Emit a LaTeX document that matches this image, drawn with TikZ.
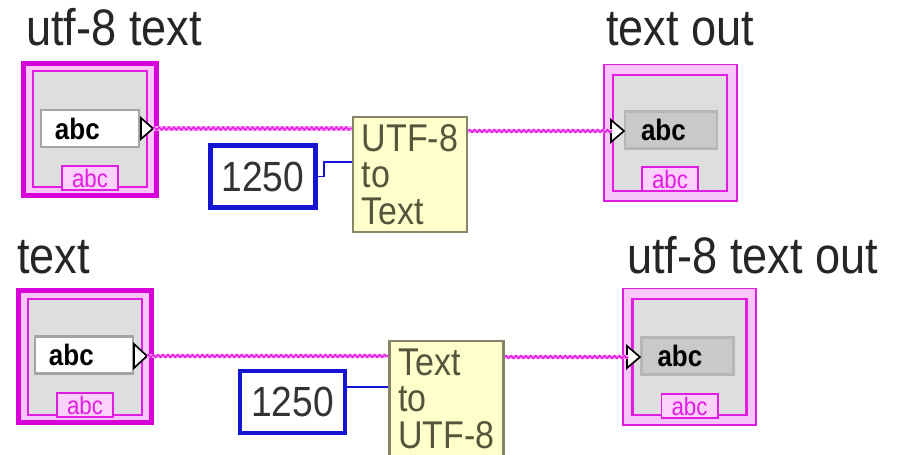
\documentclass[tikz,border=0pt]{standalone}
\usepackage{fontspec}
\setmainfont{Liberation Sans}[FakeStretch=0.88]
\usetikzlibrary{decorations.pathmorphing}

\definecolor{lvmag}{HTML}{E31CE3}
\definecolor{lvmagdark}{HTML}{D800D8}
\definecolor{lvband}{HTML}{F9C6F9}
\definecolor{lvtab}{HTML}{FAD2FA}
\definecolor{lvgray}{HTML}{DEDEDE}
\definecolor{lvstrgray}{HTML}{A4A4A4}
\definecolor{lvdisp}{HTML}{C9C9C9}
\definecolor{lvyellow}{HTML}{FFFFCC}
\definecolor{lvolive}{HTML}{85856A}
\definecolor{lvoltext}{HTML}{55553C}
\definecolor{lvblue}{HTML}{1414D2}
\definecolor{lvwband}{HTML}{F7A8F7}

\tikzset{
  lbl/.style={font=\fontsize{36.5}{40}\selectfont, text=black!85, inner sep=0},
  ctlouter/.style={draw=lvmagdark, line width=3.5pt, fill=lvband, minimum width=3.325cm, minimum height=3.3cm, inner sep=0},
  indouter/.style={draw=lvmag, line width=1.4pt, fill=lvband, minimum width=3.325cm, minimum height=3.4cm, inner sep=0},
  frame/.style={draw=lvmag, line width=1.8pt, fill=lvgray, minimum width=2.84cm, minimum height=2.89cm, inner sep=0},
  ctlstr/.style={draw=lvstrgray, line width=2pt, fill=white, minimum height=0.925cm, inner xsep=0.35cm, inner ysep=0, text width=1.75cm, align=left, font=\bfseries\fontsize{21}{21}\selectfont},
  indstr/.style={draw=lvstrgray!80, line width=2pt, fill=lvdisp, minimum height=0.925cm, inner xsep=0.4cm, inner ysep=0, text width=1.5cm, align=left, font=\bfseries\fontsize{21}{21}\selectfont},
  tab/.style={draw=lvmag, line width=1.4pt, fill=lvtab, text=lvmag, font=\fontsize{18}{18}\selectfont, minimum width=1.4cm, minimum height=0.6cm, inner sep=0},
  term/.style={draw=black, line width=1.2pt, fill=white, line join=miter},
  fnbox/.style={draw=lvolive, line width=2pt, fill=lvyellow, text=lvoltext, font=\fontsize{27.5}{26}\selectfont, align=left, minimum width=2.85cm, minimum height=2.875cm, inner sep=0},
  const/.style={draw=lvblue, line width=3.5pt, fill=white, text=black!80, font=\fontsize{30}{30}\selectfont, minimum width=2.625cm, minimum height=1.55cm, inner sep=0},
  strwire/.style={draw=lvwband, line width=3.4pt, postaction={draw=lvmag, line width=1pt, decorate, decoration={zigzag, amplitude=1pt, segment length=3.5pt}}},
  numwire/.style={draw=lvblue, line width=1.4pt}
}

\begin{document}
\begin{tikzpicture}[x=0.025cm, y=-0.025cm]
    \useasboundingbox (0,0) rectangle (898,454);
    \clip (0,0) rectangle (898,454);

        % Labels
        \node[lbl, anchor=base west] (lblA) at (26,45) {utf-8 text};
        \node[lbl, anchor=base west] (lblB) at (606,45) {text out};
        \node[lbl, anchor=base west] (lblC) at (17,273) {text};
        \node[lbl, anchor=base west] (lblD) at (627,273) {utf-8 text out};

        % Control: utf-8 text
        \node[ctlouter] (ctlA) at (90,129.5) {};
        \node[frame] (frmA) at (90,129) {};
        \node[ctlstr] (strA) at (90,128.5) {abc};
        \node[tab] (tabA) at (90,178) {abc};
        \coordinate (outA) at (153,128.5);
        \draw[term] (141,118) -- (outA) -- (141,139) -- cycle;

        % Indicator: text out
        \node[indouter] (indB) at (670.5,132.5) {};
        \node[frame] (frmB) at (670,133) {};
        \node[indstr] (strB) at (671,130) {abc};
        \node[tab] (tabB) at (670,179) {abc};
        \coordinate (inB) at (624,131);
        \draw[term] (611,120) -- (inB) -- (611,142) -- cycle;

        % Control: text
        \node[ctlouter] (ctlC) at (85,356.5) {};
        \node[frame] (frmC) at (85,357) {};
        \node[ctlstr] (strC) at (84,355) {abc};
        \node[tab] (tabC) at (85,405) {abc};
        \coordinate (outC) at (147,356);
        \draw[term] (134,344) -- (outC) -- (134,368) -- cycle;

        % Indicator: utf-8 text out
        \node[indouter] (indD) at (689.5,356.5) {};
        \node[frame] (frmD) at (689.5,357) {};
        \node[indstr] (strD) at (687.5,356) {abc};
        \node[tab] (tabD) at (689.5,406) {abc};
        \coordinate (inD) at (640,357);
        \draw[term] (627,346) -- (inD) -- (627,368) -- cycle;

        % Conversion functions
        \node[fnbox] (fnA) at (410,174.5) {UTF-8\\to\\Text};
        \node[fnbox] (fnB) at (446.5,398.5) {Text\\to\\UTF-8};

        % Code page constants
        \node[const] (cA) at (263,176.5) {1250};
        \node[const] (cB) at (292.5,402) {1250};

        % String wires
        \draw[strwire] (outA) -- (outA -| fnA.west);
        \draw[strwire] (fnA.east |- inB) -- ([xshift=-0.3cm]inB);
        \draw[strwire] (outC) -- (outC -| fnB.west);
        \draw[strwire] (fnB.east |- inD) -- ([xshift=-0.3cm]inD);

        % Numeric wires
        \draw[numwire] (cA.east) -- ++(6,0) |- ([yshift=0.31cm]fnA.west);
        \draw[numwire] (cB.east |- 0,387) -- (fnB.west |- 0,387);

        \end{tikzpicture}
\end{document}
